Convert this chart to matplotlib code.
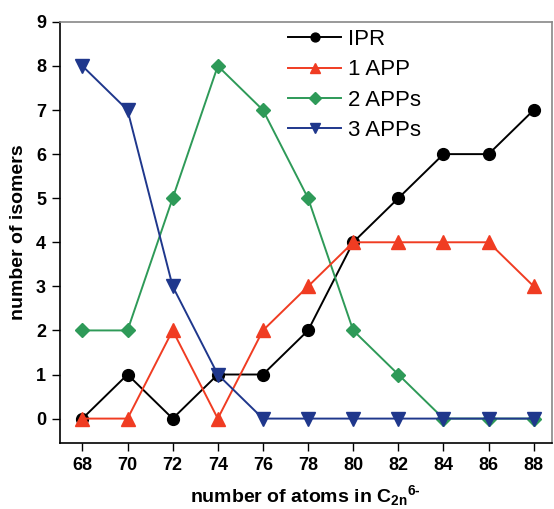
import numpy as np
import matplotlib.pyplot as plt

atoms = [68, 70, 72, 74, 76, 78, 80, 82, 84, 86, 88]
ipr = [0, 1, 0, 1, 1, 2, 4, 5, 6, 6, 7]
app1 = [0, 0, 2, 0, 2, 3, 4, 4, 4, 4, 3]
app2 = [2, 2, 5, 8, 7, 5, 2, 1, 0, 0, 0]
app3 = [8, 7, 3, 1, 0, 0, 0, 0, 0, 0, 0]

plt.rcParams['font.family'] = ['Liberation Sans', 'DejaVu Sans']
plt.rcParams['mathtext.fontset'] = 'custom'
plt.rcParams['mathtext.bf'] = 'Liberation Sans:bold'
plt.rcParams['mathtext.rm'] = 'Liberation Sans:bold'

fig = plt.figure(figsize=(5.54, 5.09), dpi=100)
ax = fig.add_axes([0.108, 0.130, 0.888, 0.827])

ax.plot(atoms, ipr, '-o', color='black', ms=8.5, lw=1.4, label='IPR', zorder=3)
ax.plot(atoms, app2, '-D', color='#2E9A58', ms=7.5, lw=1.4, label='2 APPs', zorder=4)
ax.plot(atoms, app1, '-^', color='#F03C22', ms=9.5, lw=1.4, label='1 APP', zorder=5)
ax.plot(atoms, app3, '-v', color='#1F378C', ms=9.5, lw=1.4, label='3 APPs', zorder=6)

handles, labels = ax.get_legend_handles_labels()
order = [0, 2, 1, 3]
ax.legend([handles[i] for i in order], [labels[i] for i in order],
          loc='upper left', bbox_to_anchor=(0.446, 1.004), borderaxespad=0,
          frameon=False, fontsize=16, handlelength=2.4, markerscale=0.75,
          labelspacing=0.42, handletextpad=0.3)

ax.set_xlim(67.0, 88.8)
ax.set_ylim(-0.55, 9)
ax.set_xticks(np.arange(68, 90, 2))
ax.set_yticks(np.arange(0, 10, 1))
ax.tick_params(direction='out', length=6, width=1, labelsize=13, pad=4)
for lbl in ax.get_xticklabels() + ax.get_yticklabels():
    lbl.set_fontweight('bold')
for s in ax.spines.values():
    s.set_linewidth(1.2)
ax.spines['top'].set_color('#888888')
ax.spines['right'].set_color('#888888')

ax.set_xlabel(r'number of atoms in $\mathbf{C_{2n}}^{\text{6-}}$', fontsize=14, fontweight='bold', labelpad=7)
ax.set_ylabel('number of isomers', fontsize=14, fontweight='bold', labelpad=6)

plt.savefig('out.png')
